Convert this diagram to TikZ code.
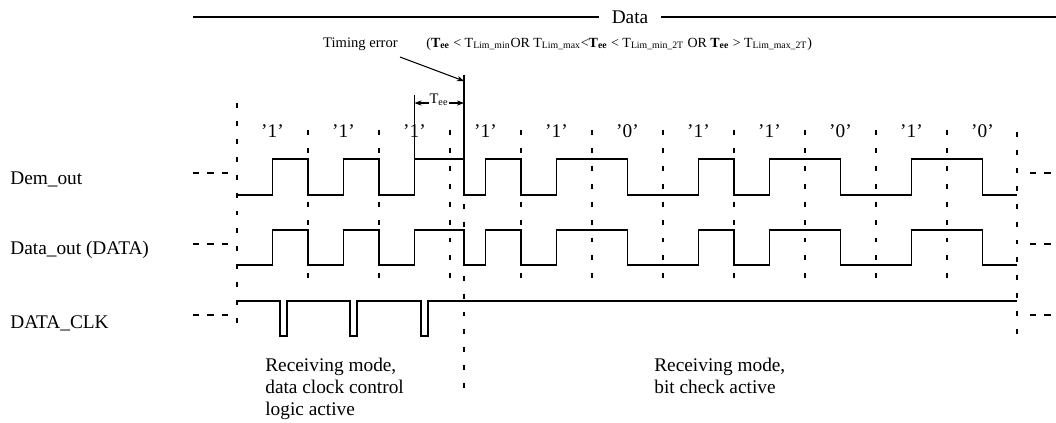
\documentclass[tikz,border=0pt]{standalone}
\usepackage{fontspec}
\setmainfont{Liberation Serif}
\usetikzlibrary{arrows.meta,positioning}

\begin{document}
\begin{tikzpicture}[
    x=0.02cm, y=-0.02cm,
    wave/.style={line width=0.7pt},
    gridline/.style={line width=0.7pt, dash pattern=on 2.8pt off 7.4pt},
    cont/.style={line width=0.7pt, dash pattern=on 3.6pt off 4.6pt},
    sig/.style={anchor=west, font=\fontsize{11}{12.5}\selectfont, inner sep=0pt},
    bit/.style={font=\fontsize{11}{12.5}\selectfont, inner sep=0pt},
    note/.style={font=\fontsize{8.3}{10}\selectfont, inner sep=0pt},
    mode/.style={anchor=north west, align=left, font=\fontsize{11}{12.5}\selectfont, inner sep=0pt},
    arrow/.style={-{Stealth[length=4pt]}, line width=0.6pt}
]
\useasboundingbox (0,0) rectangle (1056,423);

% header
\node[bit, inner xsep=12.5*0.02cm] (datahdr) at (630,17) {Data};
\coordinate (hdrL) at (193,17);
\coordinate (hdrR) at (1056,17);
\draw[wave] (hdrL) -- (datahdr.west);
\draw[wave] (datahdr.east) -- (hdrR);

% timing error note
\node[note, anchor=base east] (terr) at (398,47) {Timing error};
\node[note, anchor=base west, font=\fontsize{7.95}{10}\selectfont] (cond) at (426,47) {(\textbf{T}\textsubscript{\textbf{ee}} < T\textsubscript{Lim\_min}OR T\textsubscript{Lim\_max}<\textbf{T}\textsubscript{\textbf{ee}} < T\textsubscript{Lim\_min\_2T} OR \textbf{T}\textsubscript{\textbf{ee}} > T\textsubscript{Lim\_max\_2T})};
\coordinate (errtop) at (464,75);
\coordinate (errpt) at (464,81);
\coordinate (errfrom) at (400,57);
\draw[arrow] (errfrom) -- (errpt);
\draw[wave] (errtop) -- (464,159);

% T_ee
\node[note] (tee) at (439,100) {T\textsubscript{ee}};
\coordinate (teeL) at (414.5,103);
\coordinate (teeR) at (464,103);
\draw[wave] (414.5,95) -- (414.5,159);
\draw[arrow] (tee.west |- teeL) -- (teeL);
\draw[arrow] (tee.east |- teeR) -- (teeR);

% bit labels
\foreach \b [count=\i from 0] in {1,1,1,1,1,0,1,1,0,1,0}
  \node[bit] (bit\i) at (272.5+71*\i,131) {'\b'};

% bit grid
\draw[gridline] (237,103) -- (237,330);
\foreach \k in {1,...,10}
  \draw[gridline] (237+71*\k,130) -- (237+71*\k,283);
\draw[gridline] (1017,132) -- (1017,337);
\draw[gridline] (464,204) -- (464,397);

% signal names
\node[sig] (demlbl) at (10,179) {Dem\_out};
\node[sig] (datlbl) at (10,250) {Data\_out (DATA)};
\node[sig] (clklbl) at (10,323) {DATA\_CLK};

% continuation dashes
\foreach \y in {173,244,315} {
  \draw[cont] (193,\y) -- (231,\y);
  \draw[cont] (1030,\y) -- (1052,\y);
}

% Dem_out and Data_out
\foreach \hi/\lo in {159/195, 230/265}
  \draw[wave] (237,\lo) -| (272.5,\hi) -| (308,\lo) -| (343.5,\hi) -| (379,\lo)
    -| (414.5,\hi) -| (464,\lo) -| (485.5,\hi) -| (521,\lo) -| (556.5,\hi)
    -| (627.5,\lo) -| (698.5,\hi) -| (734,\lo) -| (769.5,\hi) -| (840.5,\lo)
    -| (911.5,\hi) -| (982.5,\lo) -- (1017,\lo);

% DATA_CLK
\draw[wave] (237,301) -| (280,336) -| (287,301) -| (350,336) -| (357,301)
  -| (421,336) -| (428,301) -- (1017,301);

% modes
\node[mode] (mode1) at (265,358) {Receiving mode,\\data clock control\\logic active};
\node[mode] (mode2) at (654,358) {Receiving mode,\\bit check active};
\end{tikzpicture}
\end{document}
